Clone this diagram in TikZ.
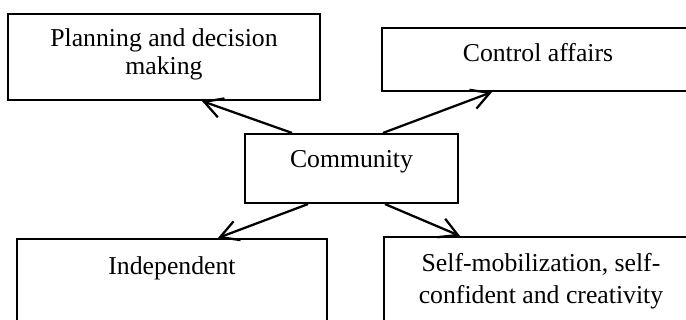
\documentclass[tikz,border=0pt]{standalone}
\usepackage{fontspec}
\setmainfont{Liberation Serif}
\usetikzlibrary{arrows.meta,calc}

% text set from the top of a framed box
\newcommand{\cellbox}[4]{\parbox[c][#2][t]{#1}{\centering\rule{0pt}{#3}#4}}

\begin{document}
\begin{tikzpicture}[x=0.75pt,y=-0.75pt,
  box/.style={draw,line width=1.6pt,inner sep=0pt,
              font=\fontsize{19.3}{21}\selectfont},
  link/.style={line width=1.7pt,-{Straight Barb[length=13.5pt,width=15pt]}}]

  \useasboundingbox (0,0) rectangle (686,320);
  \clip (0,0) rectangle (686,320);

  \node (plan)  [box] at (164,57)
    {\cellbox{234pt}{64.5pt}{24.75pt}{Planning and decision\\making}};
  \node (ctrl)  [box] at (538,59.5)
    {\cellbox{234pt}{47.25pt}{25.5pt}{Control affairs}};
  \node (comm)  [box] at (351.5,168.5)
    {\cellbox{159.75pt}{51.75pt}{25.5pt}{Community}};
  \node (indep) [box] at (172,284)
    {\cellbox{232.5pt}{67.5pt}{27pt}{Independent}};
  \node (self)  [box] at (541,282)
    {\cellbox{235.5pt}{67.5pt}{26.25pt}{Self-mobilization, self-\\[3pt]confident and creativity}};

  % arrows out of the centre box
  \draw[link] ($(comm.north)+(-59.5,0)$) -- ($(plan.south)+(38,0)$);
  \draw[link] ($(comm.north)+(31.5,0)$)  -- ($(ctrl.south)+(-46,0)$);
  \draw[link] ($(comm.south)+(-43.5,0)$) -- ($(indep.north)+(46,0)$);
  \draw[link] ($(comm.south)+(33.5,0)$)  -- ($(self.north)+(-81,0)$);
\end{tikzpicture}
\end{document}
